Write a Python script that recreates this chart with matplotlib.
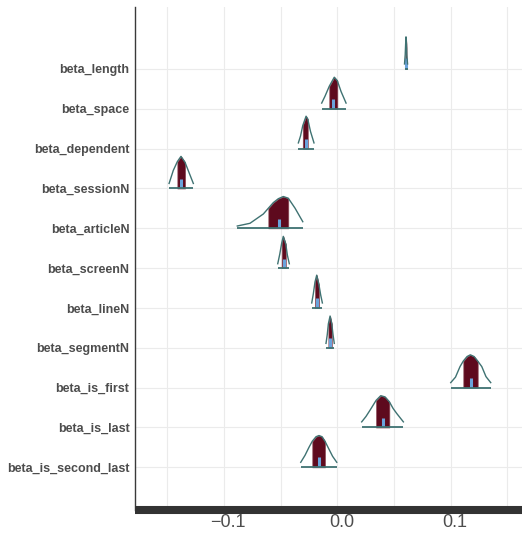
import numpy as np
import matplotlib.pyplot as plt
from matplotlib.transforms import ScaledTranslation

plt.rcParams['font.family'] = ['Liberation Sans', 'DejaVu Sans']

params = ['beta_length', 'beta_space', 'beta_dependent', 'beta_sessionN',
          'beta_articleN', 'beta_screenN', 'beta_lineN', 'beta_segmentN',
          'beta_is_first', 'beta_is_last', 'beta_is_second_last']

# posterior density outlines (x value, height in row units)
length_x = [0.0593, 0.0599, 0.0603, 0.0606, 0.0610, 0.0613, 0.0620]
length_h = [0.126, 0.353, 0.630, 0.806, 0.630, 0.353, 0.126]
space_x = [-0.0138, -0.0109, -0.0071, -0.0027, 0.0000, 0.0033, 0.0077]
space_h = [0.144, 0.315, 0.567, 0.793, 0.705, 0.433, 0.144]
dependent_x = [-0.0344, -0.0325, -0.0305, -0.0276, -0.0261, -0.0237, -0.0206]
dependent_h = [0.144, 0.317, 0.579, 0.814, 0.743, 0.433, 0.144]
sessionN_x = [-0.1485, -0.1448, -0.1412, -0.1380, -0.1344, -0.1315, -0.1271]
sessionN_h = [0.126, 0.453, 0.675, 0.806, 0.655, 0.443, 0.126]
articleN_x = [-0.0883, -0.0771, -0.0653, -0.0609, -0.0565, -0.0521, -0.0477,
              -0.0433, -0.0373, -0.0305]
articleN_h = [0.058, 0.126, 0.360, 0.504, 0.645, 0.743, 0.798, 0.756, 0.504, 0.166]
screenN_x = [-0.0526, -0.0508, -0.0491, -0.0477, -0.0455, -0.0441, -0.0424]
screenN_h = [0.111, 0.353, 0.630, 0.798, 0.605, 0.327, 0.111]
lineN_x = [-0.0226, -0.0212, -0.0197, -0.0182, -0.0162, -0.0147, -0.0132]
lineN_h = [0.126, 0.353, 0.655, 0.824, 0.579, 0.327, 0.126]
segmentN_x = [-0.0100, -0.0089, -0.0079, -0.0064, -0.0049, -0.0038, -0.0027]
segmentN_h = [0.111, 0.327, 0.605, 0.798, 0.605, 0.327, 0.111]
is_first_x = [0.1001, 0.1043, 0.1083, 0.1112, 0.1145, 0.1174, 0.1207, 0.1239,
              0.1275, 0.1312, 0.1354]
is_first_h = [0.126, 0.264, 0.529, 0.668, 0.781, 0.824, 0.781, 0.668, 0.529,
              0.277, 0.126]
is_last_x = [0.0215, 0.0253, 0.0289, 0.0342, 0.0383, 0.0421, 0.0459, 0.0492,
             0.0524, 0.0583]
is_last_h = [0.141, 0.277, 0.436, 0.680, 0.798, 0.768, 0.647, 0.479, 0.353, 0.141]
is_second_last_x = [-0.0323, -0.0285, -0.0250, -0.0221, -0.0188, -0.0162,
                    -0.0135, -0.0109, -0.0078, -0.0042, -0.0005]
is_second_last_h = [0.126, 0.302, 0.504, 0.655, 0.768, 0.798, 0.768, 0.655,
                    0.479, 0.277, 0.126]

# medians, 50% intervals and height of the point-estimate bar
medians = [0.0606, -0.0035, -0.0276, -0.1380, -0.0515, -0.0473, -0.0181,
           -0.0064, 0.1177, 0.0401, -0.0162]
inner_lo = [0.0601, -0.0071, -0.0305, -0.1412, -0.0609, -0.0491, -0.0197,
            -0.0079, 0.1112, 0.0342, -0.0221]
inner_hi = [0.0611, 0.0000, -0.0261, -0.1344, -0.0433, -0.0455, -0.0162,
            -0.0049, 0.1239, 0.0459, -0.0109]
point_h = [0.27, 0.25, 0.25, 0.23, 0.23, 0.24, 0.24, 0.24, 0.25, 0.25, 0.26]

xticks = [-0.1, 0.0, 0.1]
xtick_labels = ['\u22120.1', '0.0', '0.1']
xminor = [-0.15, -0.05, 0.05, 0.15]

curves = [(length_x, length_h), (space_x, space_h), (dependent_x, dependent_h),
          (sessionN_x, sessionN_h), (articleN_x, articleN_h),
          (screenN_x, screenN_h), (lineN_x, lineN_h),
          (segmentN_x, segmentN_h), (is_first_x, is_first_h),
          (is_last_x, is_last_h), (is_second_last_x, is_second_last_h)]

fill_col = '#5e0a1e'
fill_edge = '#8c4a58'
line_col = '#3f7272'
point_col = '#6aa3dc'

fig = plt.figure(figsize=(5.22, 5.38), dpi=100)
ax = fig.add_axes([0.2586, 0.052, 0.7414, 0.935])

n = len(params)
ypos = np.arange(n, 0, -1)

for i in range(n):
    x = np.array(curves[i][0])
    h = np.array(curves[i][1])
    y0 = ypos[i]
    # inner area between the 50% bounds
    keep = (x > inner_lo[i]) & (x < inner_hi[i])
    fx = np.concatenate([[inner_lo[i]], x[keep], [inner_hi[i]]])
    fh = np.interp(fx, x, h)
    ax.fill_between(fx, y0, y0 + fh, facecolor=fill_col, edgecolor=fill_edge,
                    linewidth=0.5, zorder=3)
    ax.vlines(medians[i], y0, y0 + point_h[i], color=point_col, linewidth=2.2,
              zorder=4)
    ax.plot(x, y0 + h, color=line_col, linewidth=1.0, zorder=5)
    ax.plot([x[0], x[-1]], [y0, y0], color=line_col, linewidth=1.3, zorder=5,
            solid_capstyle='butt')

ax.set_xlim(-0.1786, 0.1630)
ax.set_ylim(-0.072, n + 1.556)

ax.set_xticks(xticks)
ax.set_xticklabels(xtick_labels)
ax.set_xticks(xminor, minor=True)
ax.set_yticks(ypos)
ax.set_yticklabels(params, fontweight='bold')

ax.grid(True, which='both', color='#ebebeb', linewidth=0.8, zorder=0)
ax.set_axisbelow(True)
ax.tick_params(axis='x', which='both', length=0, pad=3, labelsize=13,
               labelcolor='#4d4d4d')
ax.tick_params(axis='y', length=0, pad=4, labelsize=9, labelcolor='#4d4d4d')

offset = ScaledTranslation(4 / 100, 0, fig.dpi_scale_trans)
for lab in ax.get_xticklabels():
    lab.set_transform(lab.get_transform() + offset)

for side in ['top', 'right']:
    ax.spines[side].set_visible(False)
ax.spines['left'].set_color('#3a3a3a')
ax.spines['left'].set_linewidth(1.0)
ax.spines['bottom'].set_color('#333333')
ax.spines['bottom'].set_linewidth(5.8)
ax.spines['bottom'].set_capstyle('butt')

fig.savefig('out.png', dpi=100)
